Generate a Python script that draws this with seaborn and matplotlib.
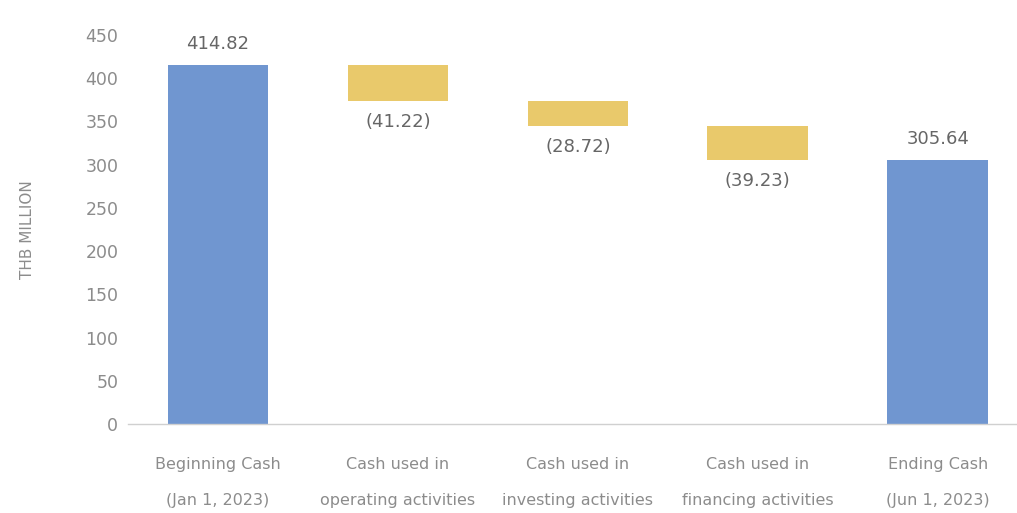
import numpy as np
import matplotlib
matplotlib.use("Agg")
import matplotlib.pyplot as plt
import seaborn as sns

# waterfall data (THB million)
categories = ["Beginning Cash\n(Jan 1, 2023)",
              "Cash used in\noperating activities",
              "Cash used in\ninvesting activities",
              "Cash used in\nfinancing activities",
              "Ending Cash\n(Jun 1, 2023)"]
changes = [414.82, -41.22, -28.72, -39.23, 305.64]
labels = ["414.82", "(41.22)", "(28.72)", "(39.23)", "305.64"]
kinds = ["total", "delta", "delta", "delta", "total"]

blue = "#7096d0"
yellow = "#e9c96b"
grey = "#8c8c8c"

# bottoms / heights for the floating bars
bottoms, heights = [], []
running = 0.0
for v, k in zip(changes, kinds):
    if k == "total":
        bottoms.append(0.0)
        heights.append(v)
        running = v
    else:
        bottoms.append(running + v)
        heights.append(-v)
        running = running + v

sns.set_style("white")
plt.rcParams['font.family'] = ['DejaVu Sans']

fig = plt.figure(figsize=(10.17, 5.13), dpi=100)
ax = fig.add_axes([128 / 1017, 89 / 513, 889 / 1017, 389 / 513])

sns.barplot(x=categories, y=heights, bottom=bottoms, color=blue,
            width=0.56, saturation=1, ax=ax)
for patch, k in zip(ax.patches, kinds):
    patch.set_facecolor(blue if k == "total" else yellow)
    patch.set_edgecolor("none")

# value labels
for i, (b, h, k, lab) in enumerate(zip(bottoms, heights, kinds, labels)):
    if k == "total":
        ax.text(i, b + h + 14, lab, ha="center", va="bottom", fontsize=13, color="#666666")
    else:
        ax.text(i, b - 14, lab, ha="center", va="top", fontsize=13, color="#666666")

ax.set_xlim(-0.5, 4.44)
ax.set_ylim(0, 450)
ax.set_yticks(np.arange(0, 451, 50))
ax.tick_params(axis="y", labelsize=12.5, colors=grey, length=0, pad=7)
ax.tick_params(axis="x", labelsize=11.5, colors=grey, length=0, pad=24)
for lab in ax.get_xticklabels():
    lab.set_linespacing(2.75)
ax.set_ylabel("THB MILLION", fontsize=11, color=grey, labelpad=36)

sns.despine(ax=ax, left=True)
ax.spines["bottom"].set_color("#d0d0d0")
ax.spines["bottom"].set_linewidth(1)

fig.savefig("out.png", dpi=100)
